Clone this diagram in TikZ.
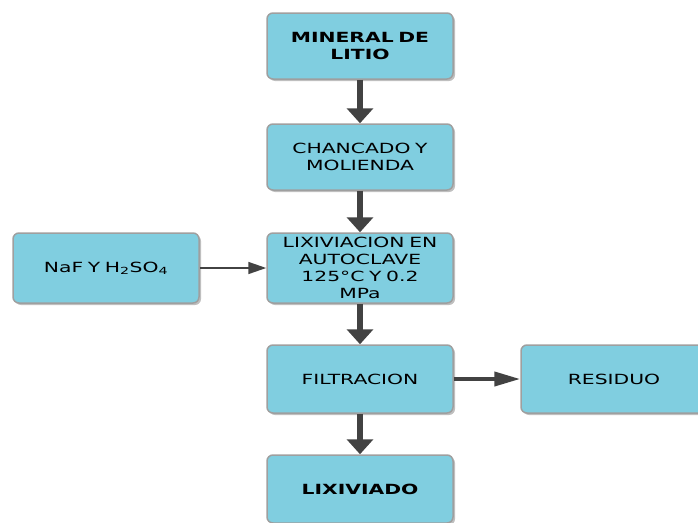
\documentclass[tikz,border=0pt]{standalone}
\usepackage{fontspec}
\setmainfont{DejaVu Sans}[FakeStretch=1.45]
\usepackage{tikz}
\usetikzlibrary{arrows.meta,shadows}
\definecolor{cajaazul}{RGB}{128,206,224}
\definecolor{flechagris}{RGB}{66,66,66}
\tikzstyle{etapa}=[rectangle, rounded corners=6pt, draw=gray!75, line width=1.5pt, fill=cajaazul, drop shadow={shadow xshift=2pt,shadow yshift=-2pt,fill=black!50}, minimum width=186pt, minimum height=66pt, inner sep=0pt, text width=184pt, align=center, font=\fontsize{14}{17}\selectfont]
\tikzstyle{gruesa}=[line width=6.5pt, color=flechagris, -{Triangle[width=26pt,length=15pt]}]
\tikzstyle{media}=[line width=4pt, color=flechagris, -{Triangle[width=14pt,length=26pt]}]
\tikzstyle{fina}=[line width=1.5pt, color=flechagris, -{Triangle[width=12pt,length=18pt]}]

\begin{document}
\begin{tikzpicture}[x=1pt,y=-1pt]
\useasboundingbox (0,0) rectangle (698,522);
\node[etapa] (mineral) at (360,46) {\bfseries MINERAL DE\\LITIO};
\node[etapa] (chancado) at (360,157) {CHANCADO Y\\MOLIENDA};
\node[etapa, minimum height=70pt] (lixiviacion) at (360,268) {LIXIVIACION EN\\AUTOCLAVE\\125°C Y 0.2\\MPa};
\node[etapa, minimum height=70pt] (reactivos) at (106,268) {NaF Y H\textsubscript{2}SO\textsubscript{4}};
\node[etapa, minimum height=68pt] (filtracion) at (360,379) {FILTRACION};
\node[etapa, minimum height=68pt] (residuo) at (614,379) {RESIDUO};
\node[etapa, minimum height=68pt] (lixiviado) at (360,489) {\bfseries LIXIVIADO};

\draw[gruesa] (mineral)--(chancado);
\draw[gruesa] (chancado)--(lixiviacion);
\draw[gruesa] (lixiviacion)--(filtracion);
\draw[gruesa] (filtracion)--(lixiviado);
\draw[fina] (reactivos)--(lixiviacion);
\draw[media] (filtracion)--(residuo);
\end{tikzpicture}
\end{document}
